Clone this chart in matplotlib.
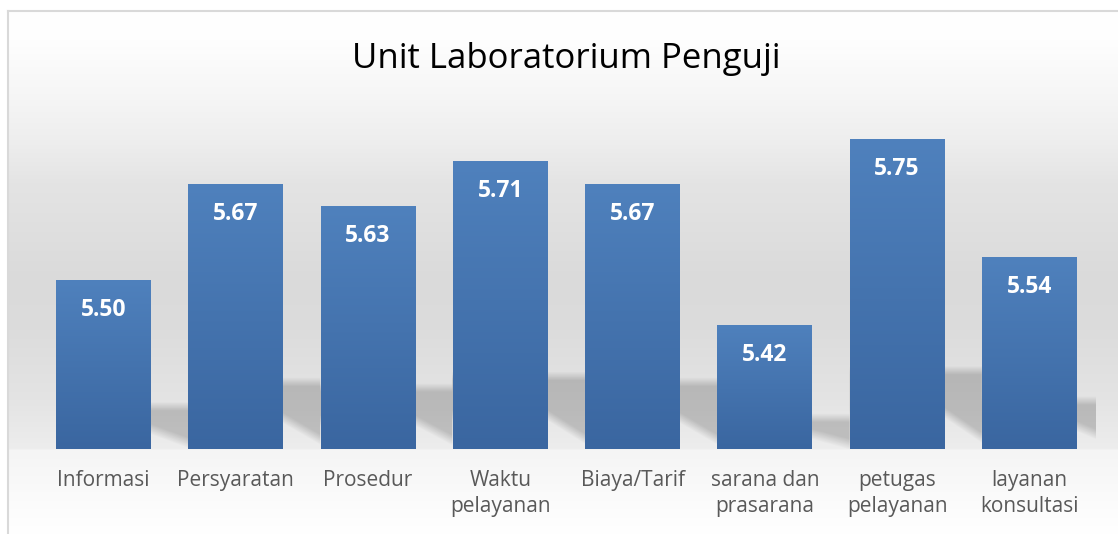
import numpy as np
import matplotlib.pyplot as plt
from matplotlib.lines import Line2D
from matplotlib.colors import to_rgb

categories = ["Informasi", "Persyaratan", "Prosedur", "Waktu\npelayanan",
              "Biaya/Tarif", "sarana dan\nprasarana", "petugas\npelayanan",
              "layanan\nkonsultasi"]
values = [5.50, 5.67, 5.63, 5.71, 5.67, 5.42, 5.75, 5.54]
title = "Unit Laboratorium Penguji"
y_min, y_max = 5.2, 5.8

plt.rcParams['font.family'] = ['Open Sans', 'DejaVu Sans']

W_PX, H_PX = 1118, 534
fig = plt.figure(figsize=(W_PX / 100, H_PX / 100), dpi=100)
fig.patch.set_facecolor('white')

# chart area background: grey vertical gradient inside a light border
bg = fig.add_axes([7.5 / W_PX, 0, 1 - 7.5 / W_PX, (H_PX - 10.5) / H_PX], zorder=0)
rows = np.arange(10, H_PX)
stops_y = [10, 40, 100, 140, 183, 280, 330, 400, 448, 450, 534]
stops_g = [255, 254, 245, 238, 228, 218, 220, 228, 237, 245, 255]
grey = np.interp(rows, stops_y, stops_g) / 255
bg.imshow(np.repeat(grey[:, None], 3, axis=1)[:, None, :], aspect='auto',
          extent=[0, 1, 0, 1], interpolation='bilinear')
bg.axis('off')
fig.add_artist(Line2D([7.5 / W_PX, 7.5 / W_PX], [0, 1 - 10.5 / H_PX],
                      transform=fig.transFigure, color='#d9d9d9', lw=1.5))
fig.add_artist(Line2D([7.5 / W_PX, 1], [1 - 10.5 / H_PX, 1 - 10.5 / H_PX],
                      transform=fig.transFigure, color='#d9d9d9', lw=1.5))

ax = fig.add_axes([37.3 / W_PX, 85 / H_PX, 1058.3 / W_PX, 338.7 / H_PX], zorder=1)
ax.patch.set_alpha(0)

x = np.arange(len(values))
w = 0.718
bars = ax.bar(x, values, width=w, color='none', edgecolor='none', zorder=3)

# perspective shadow behind each bar, seen in the gap to its right
aw, ah = 1058, 339
xd = -0.5 + (np.arange(aw) + 0.5) / aw * len(values)
zz = np.arange(ah) + 0.5
XD, Z = np.meshgrid(xd, zz)
alpha = np.zeros((ah, aw))
gap = 1 - w
for i, v in enumerate(values):
    h = (v - y_min) / (y_max - y_min) * ah
    hs = 0.255 * h
    xl, xr = i - w / 2, i + w / 2
    u = np.clip((XD - xr) / gap, 0, 1)
    top = np.clip((hs + 4 - Z) / 9, 0, 1)
    zl = hs * (0.45 - 0.32 * u)
    low = np.clip((Z - zl + 5) / 11, 0, 1)
    inside = (XD >= xl) & (XD <= xr + gap)
    a = 0.19 * top * low * inside
    alpha = np.maximum(alpha, a)
shadow = np.zeros((ah, aw, 4))
shadow[..., 3] = alpha
ax.imshow(shadow, extent=[-0.5, len(values) - 0.5, y_min, y_max], origin='lower',
          aspect='auto', zorder=1, interpolation='bilinear')

# gradient fill of the bars
c_top, c_bot = np.array(to_rgb('#4f81bd')), np.array(to_rgb('#3a66a0'))
t = np.linspace(0, 1, 200)[:, None]
grad = (c_top * (1 - t) + c_bot * t)[:, None, :]
for b, v in zip(bars, values):
    im = ax.imshow(grad, extent=[b.get_x(), b.get_x() + b.get_width(), y_min, v],
                   aspect='auto', zorder=2, interpolation='bilinear')
    im.set_clip_path(b)

for i, v in enumerate(values):
    ax.annotate(f"{v:.2f}", (i, v), xytext=(0, -30), textcoords='offset pixels',
                ha='center', va='center', color='white', fontweight='bold',
                fontsize=16.5, zorder=4)

ax.set_xlim(-0.5, len(values) - 0.5)
ax.set_ylim(y_min, y_max)
ax.set_xticks(x)
ax.set_xticklabels(categories, fontsize=15, color='#595959', linespacing=1.35)
ax.tick_params(axis='x', length=0, pad=15)
ax.set_yticks([])
for s in ax.spines.values():
    s.set_visible(False)

fig.text(566 / W_PX, 1 - 68.3 / H_PX, title, ha='center', va='baseline',
         fontsize=25, color='black')

plt.savefig('out.png', dpi=100)
